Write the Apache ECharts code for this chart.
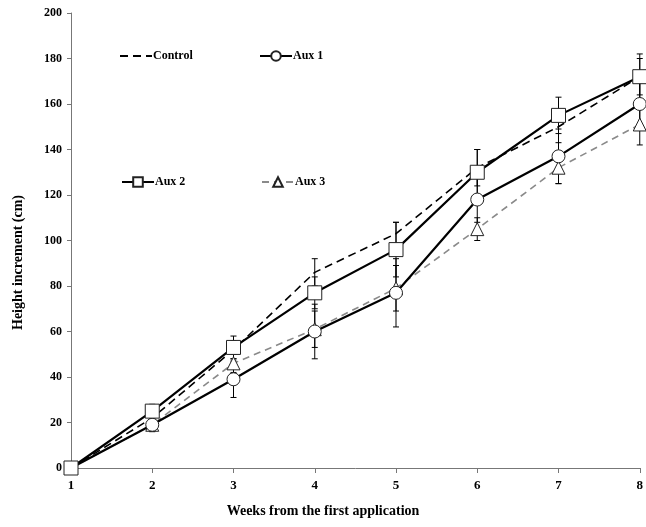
<!DOCTYPE html>
<html>
<head>
<meta charset="utf-8">
<script src="https://cdn.jsdelivr.net/npm/echarts@6/dist/echarts.min.js"></script>
<style>html,body{margin:0;padding:0;background:#fff;}#c{width:646px;height:527px;}</style>
</head>
<body>
<div id="c"></div>
<script>
const weeks = [1, 2, 3, 4, 5, 6, 7, 8];
const yTicks = [0, 20, 40, 60, 80, 100, 120, 140, 160, 180, 200];
const control = [0, 22, 52, 86, 103, 132, 150, 172];
const aux1 = [0, 19, 39, 60, 77, 118, 137, 160];
const aux2 = [0, 25, 53, 77, 96, 130, 155, 172];
const aux3 = [0, 19, 46, 61, 79, 105, 132, 151];
const controlErr = [0, 2, 4, 6, 5, 8, 7, 8];
const aux1Err = [0, 3, 8, 12, 15, 10, 12, 10];
const aux2Err = [0, 3, 5, 7, 12, 10, 8, 10];
const aux3Err = [0, 3, 4, 8, 10, 5, 7, 9];

const FONT = '"Liberation Serif", "Times New Roman", serif';
const pts = arr => weeks.map((w, i) => [w, arr[i]]);
const errPts = (arr, err) => weeks.map((w, i) => [w, arr[i], err[i]]);

function renderErr(params, api) {
  const x = api.value(0), v = api.value(1), e = api.value(2);
  if (!e) return null;
  const hi = api.coord([x, v + e]);
  const lo = api.coord([x, v - e]);
  const w = 3;
  const st = {stroke: '#000', lineWidth: 1};
  return {
    type: 'group',
    children: [
      {type: 'line', shape: {x1: hi[0], y1: hi[1], x2: lo[0], y2: lo[1]}, style: st},
      {type: 'line', shape: {x1: hi[0] - w, y1: hi[1], x2: hi[0] + w, y2: hi[1]}, style: st},
      {type: 'line', shape: {x1: lo[0] - w, y1: lo[1], x2: lo[0] + w, y2: lo[1]}, style: st}
    ]
  };
}
function errSeries(arr, err) {
  return {type: 'custom', renderItem: renderErr, data: errPts(arr, err), z: 1,
          encode: {x: 0, y: 1}, silent: true, clip: false};
}

const chart = echarts.init(document.getElementById('c'), null, {renderer: 'canvas'});
const legendBase = {
  orient: 'horizontal', itemWidth: 32, itemHeight: 12, itemGap: 0,
  textStyle: {fontFamily: FONT, fontWeight: 'bold', fontSize: 12, color: '#000', padding: [0, 0, 0, -4]},
  selectedMode: false
};
chart.setOption({
  backgroundColor: '#fff',
  animation: false,
  grid: {left: 71, right: 5, top: 13, bottom: 59},
  legend: [
    Object.assign({}, legendBase, {data: ['Control'], left: 114, top: 45,
      itemStyle: {color: 'rgba(0,0,0,0)', borderWidth: 0, opacity: 0}}),
    Object.assign({}, legendBase, {data: ['Aux 1'], left: 254, top: 45}),
    Object.assign({}, legendBase, {data: ['Aux 2'], left: 116, top: 171}),
    Object.assign({}, legendBase, {data: ['Aux 3'], left: 256, top: 171})
  ],
  xAxis: {
    type: 'value', min: 1, max: 8, interval: 1,
    axisLine: {lineStyle: {color: '#777', width: 1}},
    axisTick: {show: true, length: 5, inside: false, lineStyle: {color: '#777'}},
    splitLine: {show: false},
    axisLabel: {fontFamily: FONT, fontWeight: 'bold', fontSize: 13, color: '#000', margin: 11,
                formatter: v => String(v)}
  },
  yAxis: {
    type: 'value', min: 0, max: 200, interval: 20,
    axisLine: {show: true, lineStyle: {color: '#777', width: 1}},
    axisTick: {show: true, length: 4, lineStyle: {color: '#777'}},
    splitLine: {show: false},
    axisLabel: {fontFamily: FONT, fontWeight: 'bold', fontSize: 12, color: '#000', margin: 9,
                formatter: v => yTicks.includes(v) ? String(v) : ''}
  },
  graphic: [
    {type: 'text', left: 'center', top: 504, style: {text: 'Weeks from the first application',
      font: 'bold 14px ' + FONT, fill: '#000'}, x: -20},
    {type: 'text', rotation: Math.PI / 2, x: 11, y: 330, style: {text: 'Height increment (cm)',
      font: 'bold 14px ' + FONT, fill: '#000'}}
  ],
  series: [
    errSeries(control, controlErr),
    errSeries(aux1, aux1Err),
    errSeries(aux2, aux2Err),
    errSeries(aux3, aux3Err),
    {name: 'Control', type: 'line', data: pts(control), symbol: 'none', z: 3,
     lineStyle: {color: '#000', width: 1.6, type: [8, 5]}, itemStyle: {color: '#000'}},
    {name: 'Aux 3', type: 'line', data: pts(aux3), symbol: 'triangle', symbolSize: 13, z: 4,
     lineStyle: {color: '#8a8a8a', width: 1.6, type: [7, 5]},
     itemStyle: {color: '#fff', borderColor: '#222', borderWidth: 1}},
    {name: 'Aux 1', type: 'line', data: pts(aux1), symbol: 'circle', symbolSize: 13, z: 5,
     lineStyle: {color: '#000', width: 2.2}, itemStyle: {color: '#fff', borderColor: '#222', borderWidth: 1}},
    {name: 'Aux 2', type: 'line', data: pts(aux2), symbol: 'rect', symbolSize: 14, z: 6,
     lineStyle: {color: '#000', width: 2.2}, itemStyle: {color: '#fff', borderColor: '#222', borderWidth: 1}}
  ]
});
</script>
</body>
</html>
